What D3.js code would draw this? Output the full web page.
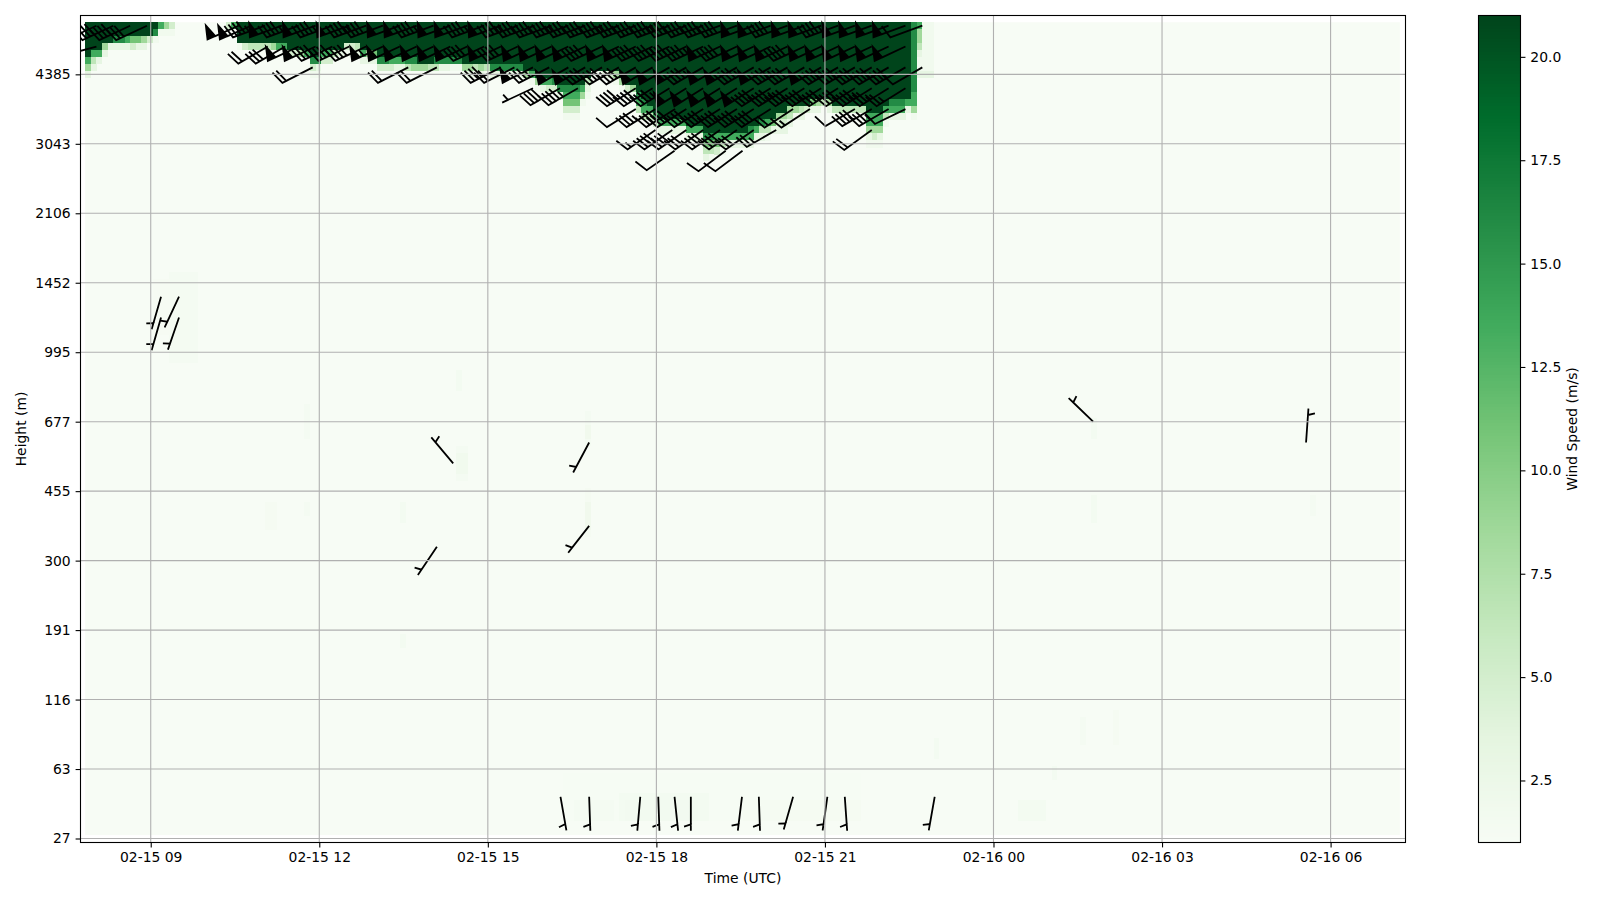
<!DOCTYPE html>
<html>
<head>
<meta charset="utf-8">
<style>
  body { margin: 0; background: #fff; }
  text { font-family: "DejaVu Sans", sans-serif; font-size: 13.9px; fill: #000; }
</style>
</head>
<body>
<svg width="1600" height="900"></svg>
<script src="https://cdn.jsdelivr.net/npm/d3@7"></script>
<script>
// tick labels
const heightLabels = [27, 63, 116, 191, 300, 455, 677, 995, 1452, 2106, 3043, 4385]
const heightLevels = [0, 10, 20, 30, 40, 50, 60, 70, 80, 90, 100, 110]
const timeTicks = ['2025-02-15T09:00Z', '2025-02-15T12:00Z', '2025-02-15T15:00Z', '2025-02-15T18:00Z',
  '2025-02-15T21:00Z', '2025-02-16T00:00Z', '2025-02-16T03:00Z', '2025-02-16T06:00Z']
const speedTicks = [2.5, 5, 7.5, 10, 12.5, 15, 17.5, 20]

// Greens colormap stops
const greens = ['#f7fcf5', '#e5f5e0', '#c7e9c0', '#a1d99b', '#74c476', '#41ab5d', '#238b45', '#006d2c', '#00441b']

// speed grid: one column every 6 minutes, levels 1 to 117
const firstTime = '2025-02-15T07:50Z'
const columnCount = 234
const topLevel = 117
const calmSpeed = 1.05
const coreSpeed = 21

// jet, per column from the start: cells at full speed counted from the top...
const jetDepth = [5, 4, 4, 3, 3, 2, 2, 2, 2, 2, 2, 2, 1, 0, 0, 0, 0, 0, 0, 0, 0, 0, 0, 0, 0, 0, 0,
  3, 3, 3, 3, 3, 3, 3, 3, 3, 4, 4, 4, 4, 5, 5, 4, 4, 4, 4, 3, 3, 3, 4, 4, 4, 5, 5, 5, 5, 5, 5, 5,
  6, 6, 6, 5, 5, 5, 5, 5, 6, 6, 6, 6, 6, 6, 6, 6, 6, 6, 6, 7, 7, 8, 8, 8, 8, 9, 9, 9, 9, 9, 8,
  7, 7, 7, 7, 7, 8, 9, 9, 10, 11, 12, 13, 14, 14, 14, 14, 14, 15, 15, 15, 16, 16, 16, 16, 16, 16, 16, 16,
  15, 15, 14, 14, 14, 13, 13, 12, 12, 12, 12, 11, 11, 11, 11, 12, 12, 12, 12, 12, 12, 13, 13, 13, 12,
  11, 11, 11, 11, 0, 0, 0, 0]
// ...then the cells below them as speed codes
const jetFade = ['geb', 'gdb', 'gb', 'eb', 'b', 'hb', 'hb', 'gb', 'fc', 'fb', 'eb', 'c', 'ha', 'ga', 'ea', 'ca',
  '', '', '', '', '', '', '', '', '', 'c', 'g',
  'a', 'c', 'd', 'd', 'd', 'd', 'e', 'g', 'g', 'c', 'c', 'e', 'g', 'hca', 'hba', 'gc', 'gc', 'd', 'b', 'ca', 'ca', 'db',
  'gb', 'eb', 'fb', 'hc', 'hc', 'gc', 'gb', 'gb', 'hd', 'he', 'e', 'e', 'd', 'hd', 'hb', 'hb', 'ha', 'ha',
  'ea', 'eb', 'da', 'eb', 'da', 'hb', 'hb', 'hb', 'hb', 'hb', 'hb', 'e', 'ga', 'ea', 'gb', 'gc', 'hc', 'hb',
  'hgfca', 'hgfca', 'hgfca', 'gea', 'dba', 'a', 'a', 'b', 'c', 'ea', 'ea', 'ca', 'ea', 'hgd', 'hgd', 'gd', 'gc',
  'gb', 'gb', 'gb', 'gb', 'gb', 'gb', 'gb', 'gb', 'hfdb', 'hfda', 'gfc', 'gda', 'gb', 'gb', 'gb', 'gb',
  'hgb', 'gb', 'hdb', 'gda', 'fb', 'ecb', 'ecb', 'edb', 'ea', 'db', 'c', 'fb', 'eb', 'd', 'eb',
  'd', 'd', 'd', 'd', 'd', 'd', 'ggeba', 'ggeca', 'ggeba', 'gda', 'hgb', 'hgb', 'hgb', 'gb',
  'hhhhhhhhhhggea', 'geedbaab', 'aaaaaaab', 'aaaaaaab']
const fadeCodes = 'abcdefghi'
const fadeSpeeds = [1.8, 3.2, 5, 6.5, 8.5, 11, 13.5, 16, 18.5]

// faint patches elsewhere: first col, last col, first level, last level, speed
const faintPatches = [
  [15, 19, 69, 81, 1.35], [12, 14, 73, 80, 1.2], [39, 39, 58, 62, 1.4], [39, 39, 47, 48, 1.4], [32, 33, 45, 48, 1.3],
  [56, 56, 46, 48, 1.5], [56, 56, 28, 29, 1.5], [66, 66, 65, 67, 1.5], [66, 67, 52, 56, 1.4], [66, 67, 53, 55, 1.8],
  [89, 89, 57, 61, 1.4], [89, 89, 58, 59, 1.9], [89, 89, 44, 50, 1.3], [89, 89, 45, 48, 1.9],
  [179, 179, 58, 60, 1.5], [179, 179, 46, 49, 1.5], [218, 218, 47, 49, 1.4], [151, 151, 12, 14, 1.5],
  [177, 177, 14, 17, 1.4], [183, 183, 14, 18, 1.3], [172, 172, 9, 10, 1.5], [166, 170, 3, 5, 1.5],
  [85, 137, 3, 9, 1.15], [87, 93, 3, 5, 1.4], [95, 110, 3, 6, 1.5], [96, 108, 3, 5, 1.65], [117, 137, 3, 5, 1.3]
]

// barbs on the regular part of the jet: speed in each row at these columns
const coreCols = [26, 29, 32, 35, 38, 41, 44, 47, 50, 53, 56, 59, 62, 65, 68, 71, 74, 77, 80, 83, 86,
  89, 92, 95, 98, 101, 104, 107, 110, 113, 116, 119, 122, 125, 128, 131, 134, 137, 140, 143, 146, 149]
const coreLevels = [117, 114, 111, 108]
const coreDirs = [250, 245, 240, 238]
const coreSpeeds = [
  [0, 0, 45, 50, 45, 50, 45, 50, 45, 40, 50, 50, 45, 50, 50, 45, 50, 45, 40, 40, 45,
    40, 40, 45, 40, 40, 45, 40, 40, 40, 40, 50, 50, 40, 50, 50, 45, 50, 50, 50, 50, 10],
  [0, 0, 0, 0, 50, 50, 40, 40, 40, 55, 50, 50, 50, 50, 50, 40, 50, 40, 50, 50, 50,
    50, 40, 50, 50, 40, 45, 40, 45, 50, 40, 50, 50, 50, 40, 50, 50, 50, 50, 50, 50, 0],
  [0, 0, 0, 0, 0, 0, 0, 0, 0, 0, 0, 0, 0, 0, 0, 0, 0, 0, 0, 0, 50,
    50, 40, 40, 40, 50, 50, 50, 45, 50, 50, 45, 50, 45, 40, 50, 45, 40, 40, 40, 40, 10],
  [0, 0, 0, 0, 0, 0, 0, 0, 0, 0, 0, 0, 0, 0, 0, 0, 0, 0, 0, 0, 0,
    0, 0, 0, 40, 40, 45, 50, 50, 50, 50, 50, 40, 45, 40, 40, 40, 40, 45, 35, 25, 0]
]

// other barbs: col, level, speed, direction the wind comes from
const looseBarbs = [
  [27.3, 117, 50, 246], [29.5, 117, 50, 246],
  [2, 117, 40, 245], [5, 117, 40, 245], [8, 117, 40, 245], [11, 117, 30, 245], [2, 114, 10, 255],
  [32.5, 114, 20, 240], [35.6, 114, 30, 240], [40.5, 111, 20, 243], [57.5, 111, 20, 243], [62.6, 111, 20, 243],
  [74, 111, 40, 243], [76.4, 111, 20, 243], [79.7, 111, 50, 243], [82.6, 111, 35, 243],
  [79.7, 108, 5, 245], [84.5, 108, 40, 240], [87.7, 108, 45, 240],
  [98, 105, 10, 238], [101.5, 105, 35, 238], [105, 105, 40, 238], [107, 105, 40, 238], [110, 105, 40, 238],
  [113, 105, 40, 238], [116, 105, 40, 238], [119, 105, 40, 238], [122, 105, 40, 238], [126, 105, 20, 237], [129, 105, 15, 237],
  [137, 105, 10, 240], [140, 105, 40, 240], [143, 105, 35, 240], [146, 105, 10, 244],
  [101.5, 102, 15, 235], [104.5, 102, 40, 235], [107, 102, 40, 235], [110, 102, 30, 235], [113, 102, 40, 235],
  [116, 102, 40, 235], [119, 102, 30, 235], [123, 102, 25, 240], [140, 102, 20, 234],
  [104.9, 99, 10, 235], [114, 99, 10, 233], [117, 99, 10, 233],
  [13.5, 78, 5, 196], [16.7, 78, 5, 205], [16.7, 75, 5, 199], [13.5, 75, 5, 196],
  [62.6, 42, 5, 214], [65.5, 54, 5, 320], [89.7, 57, 5, 208], [89.7, 45, 5, 218], [179.4, 60, 5, 314], [217.3, 57, 5, 4],
  [84.6, 6, 5, 170], [89.7, 6, 5, 178], [98.8, 6, 5, 185], [102, 6, 5, 178], [104.9, 6, 5, 174], [107.8, 6, 5, 180],
  [116.9, 6, 5, 187], [119.9, 6, 5, 178], [126, 6, 5, 196], [132.1, 6, 5, 188], [135.2, 6, 5, 176], [151.2, 6, 5, 190]
]

const plot = { left: 80.5, right: 1405.5, top: 15.5, bottom: 842.5 }
const bar = { left: 1478.5, right: 1520.5 }
const barbLength = 34

const svg = d3.select('svg')

const x = d3.scaleUtc()
  .domain([new Date('2025-02-15T07:45Z'), new Date('2025-02-16T07:20Z')])
  .range([plot.left, plot.right])
const y = d3.scaleLinear()
  .domain([0, 118.47])
  .range([838.5, plot.top])
const color = d3.scaleLinear()
  .domain(greens.map((c, i) => 1 + i * 20 / (greens.length - 1)))
  .range(greens)
  .clamp(true)

const colTime = c => new Date(+new Date(firstTime) + c * 6 * 60000)

// collect the cells that differ from the calm background
const cells = []
jetDepth.forEach((depth, c) => {
  for (let i = 0; i < depth; i++) cells.push({ c, level: topLevel - i, speed: coreSpeed })
  Array.from(jetFade[c]).forEach((code, i) => {
    cells.push({ c, level: topLevel - depth - i, speed: fadeSpeeds[fadeCodes.indexOf(code)] })
  })
})
faintPatches.forEach(([c0, c1, l0, l1, speed]) => {
  for (let c = c0; c <= c1; c++) {
    for (let level = l0; level <= l1; level++) cells.push({ c, level, speed })
  }
})

svg.append('defs').append('clipPath').attr('id', 'plotClip').append('rect')
  .attr('x', plot.left).attr('y', plot.top)
  .attr('width', plot.right - plot.left).attr('height', plot.bottom - plot.top)

const g = svg.append('g').attr('clip-path', 'url(#plotClip)')

// heat map
g.append('rect')
  .attr('x', x(colTime(0))).attr('y', y(topLevel + 0.5))
  .attr('width', x(colTime(columnCount)) - x(colTime(0)))
  .attr('height', y(0.5) - y(topLevel + 0.5))
  .attr('fill', color(calmSpeed))

g.append('g').attr('shape-rendering', 'crispEdges')
  .selectAll('rect').data(cells).join('rect')
  .attr('x', d => x(colTime(d.c)))
  .attr('y', d => y(d.level + 0.5))
  .attr('width', d => x(colTime(d.c + 1)) - x(colTime(d.c)) + 0.3)
  .attr('height', d => y(d.level - 0.5) - y(d.level + 0.5) + 0.3)
  .attr('fill', d => color(d.speed))

// barb outline in the same way matplotlib builds it: shaft along +y, feathers toward +x
function barbPath(speed) {
  const L = barbLength
  const spacing = L * 0.125, height = L * 0.4, width = L * 0.25
  const flags = Math.floor(speed / 50)
  const fulls = Math.floor((speed - flags * 50) / 10)
  const half = speed - flags * 50 - fulls * 10 >= 5
  const pts = [[0, 0]]
  let offset = L
  for (let i = 0; i < flags; i++) {
    if (offset !== L) offset += spacing / 2
    pts.push([0, offset], [height, offset - width / 2], [0, offset - width])
    offset -= width + spacing
  }
  for (let i = 0; i < fulls; i++) {
    pts.push([0, offset], [height, offset + width / 2], [0, offset])
    offset -= spacing
  }
  if (half) {
    if (offset === L) {
      pts.push([0, offset])
      offset -= 1.5 * spacing
    }
    pts.push([0, offset], [height / 2, offset + width / 4], [0, offset])
  }
  pts.push([0, 0])
  return pts
}

const barbs = looseBarbs.map(([col, level, speed, dir]) => ({ col, level, speed, dir }))
coreLevels.forEach((level, r) => {
  coreCols.forEach((col, i) => {
    if (coreSpeeds[r][i] > 0) barbs.push({ col, level, speed: coreSpeeds[r][i], dir: coreDirs[r] })
  })
})

g.append('g').selectAll('path').data(barbs).join('path')
  .attr('d', d => {
    const px = x(colTime(d.col)), py = y(d.level)
    const b = d.dir * Math.PI / 180
    const sx = Math.sin(b), sy = -Math.cos(b) // along the shaft, on screen
    const fx = Math.cos(b), fy = Math.sin(b)  // feather side, on screen
    return 'M' + barbPath(d.speed).map(([a, o]) => [px + a * fx + o * sx, py + a * fy + o * sy].join(',')).join('L') + 'Z'
  })
  .attr('fill', '#000').attr('stroke', '#000').attr('stroke-width', 1.8).attr('stroke-linejoin', 'miter')

// grid goes over the barbs
const grid = svg.append('g').attr('stroke', '#b0b0b0').attr('stroke-width', 1.1)
grid.selectAll('.gx').data(timeTicks).join('line')
  .attr('x1', d => x(new Date(d))).attr('x2', d => x(new Date(d)))
  .attr('y1', plot.top).attr('y2', plot.bottom)
grid.selectAll('.gy').data(heightLevels).join('line')
  .attr('y1', d => y(d)).attr('y2', d => y(d))
  .attr('x1', plot.left).attr('x2', plot.right)

// axes
const xAxis = d3.axisBottom(x)
  .tickValues(timeTicks.map(d => new Date(d)))
  .tickFormat(d3.utcFormat('%m-%d %H'))
  .tickSize(4.9).tickPadding(4.9)
const yAxis = d3.axisLeft(y)
  .tickValues(heightLevels)
  .tickFormat((d, i) => heightLabels[i])
  .tickSize(4.9).tickPadding(4.9)

const xg = svg.append('g').attr('transform', `translate(0,${plot.bottom})`).call(xAxis)
const yg = svg.append('g').attr('transform', `translate(${plot.left},0)`).call(yAxis)
xg.select('.domain').remove()
yg.select('.domain').remove()

svg.append('rect')
  .attr('x', plot.left).attr('y', plot.top)
  .attr('width', plot.right - plot.left).attr('height', plot.bottom - plot.top)
  .attr('fill', 'none').attr('stroke', '#000').attr('stroke-width', 1.1)

svg.append('text').attr('x', (plot.left + plot.right) / 2).attr('y', 882.5)
  .attr('text-anchor', 'middle').text('Time (UTC)')
svg.append('text').attr('transform', `translate(25.5,${(plot.top + plot.bottom) / 2}) rotate(-90)`)
  .attr('text-anchor', 'middle').text('Height (m)')

// colorbar
const barY = d3.scaleLinear().domain([1, 21]).range([plot.bottom, plot.top])
svg.append('g').attr('shape-rendering', 'crispEdges')
  .selectAll('rect').data(d3.range(256)).join('rect')
  .attr('x', bar.left).attr('width', bar.right - bar.left)
  .attr('y', d => barY(1 + (d + 1) * 20 / 256))
  .attr('height', (barY(1) - barY(21)) / 256 + 0.5)
  .attr('fill', d => color(1 + (d + 0.5) * 20 / 256))

const barAxis = d3.axisRight(barY)
  .tickValues(speedTicks)
  .tickFormat(d3.format('.1f'))
  .tickSize(4.9).tickPadding(4.9)
const bg = svg.append('g').attr('transform', `translate(${bar.right},0)`).call(barAxis)
bg.select('.domain').remove()

svg.append('rect')
  .attr('x', bar.left).attr('y', plot.top)
  .attr('width', bar.right - bar.left).attr('height', plot.bottom - plot.top)
  .attr('fill', 'none').attr('stroke', '#000').attr('stroke-width', 1.1)

svg.append('text').attr('transform', `translate(1577,${(plot.top + plot.bottom) / 2}) rotate(-90)`)
  .attr('text-anchor', 'middle').text('Wind Speed (m/s)')

svg.selectAll('.tick line').attr('stroke', '#000').attr('stroke-width', 1.1)
svg.selectAll('.tick text').attr('fill', '#000').style('font-family', '"DejaVu Sans", sans-serif').style('font-size', '13.9px')
</script>
</body>
</html>
